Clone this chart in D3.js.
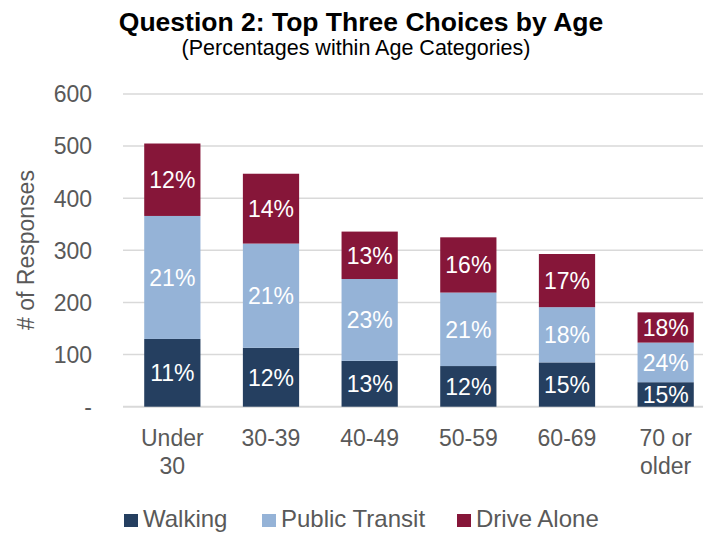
<!DOCTYPE html>
<html>
<head>
<meta charset="utf-8">
<script src="https://cdn.jsdelivr.net/npm/d3@7"></script>
<style>
  body { margin: 0; background: #fff; }
  svg { display: block; font-family: "Liberation Sans", Arial, sans-serif; }
</style>
</head>
<body>
<div id="chart"></div>
<script>
// Data
const ages = ['Under 30', '30-39', '40-49', '50-59', '60-69', '70 or older'];
const ageLines = [['Under', '30'], ['30-39'], ['40-49'], ['50-59'], ['60-69'], ['70 or', 'older']];
const seriesNames = ['Walking', 'Public Transit', 'Drive Alone'];
const walking = [130, 113, 88, 78, 85, 47];
const transit = [236, 200, 157, 141, 106, 76];
const driveAlone = [139, 134, 91, 106, 102, 58];
const walkingPct = ['11%', '12%', '13%', '12%', '15%', '15%'];
const transitPct = ['21%', '21%', '23%', '21%', '18%', '24%'];
const drivePct = ['12%', '14%', '13%', '16%', '17%', '18%'];
const yTicks = [0, 100, 200, 300, 400, 500, 600];

const width = 703;
const height = 534;
const colors = ['#253f60', '#95b3d7', '#861639'];
const textGray = '#595959';

const svg = d3.select('#chart')
    .append('svg')
    .attr('width', width)
    .attr('height', height);

// Build rows for the stack
const rows = ages.map((a, i) => ({
    age: a,
    'Walking': walking[i],
    'Public Transit': transit[i],
    'Drive Alone': driveAlone[i]
}));
const pcts = [walkingPct, transitPct, drivePct];

const x = d3.scaleBand()
    .domain(ages)
    .range([123, 715])
    .paddingInner(0.43)
    .paddingOuter(0.215);

const y = d3.scaleLinear()
    .domain([0, 600])
    .range([406.7, 94]);

// Gridlines
svg.append('g')
    .selectAll('line')
    .data(yTicks)
    .enter().append('line')
    .attr('x1', 123)
    .attr('x2', 715)
    .attr('y1', d => y(d))
    .attr('y2', d => y(d))
    .attr('stroke', '#d9d9d9')
    .attr('stroke-width', d => d === 0 ? 2 : 1.5);

// Y tick labels
svg.append('g')
    .selectAll('text')
    .data(yTicks)
    .enter().append('text')
    .attr('x', 92)
    .attr('y', d => y(d))
    .attr('dy', '0.36em')
    .attr('text-anchor', 'end')
    .attr('font-size', '23px')
    .attr('fill', textGray)
    .text(d => d === 0 ? '-' : d);

// Y axis title
svg.append('text')
    .attr('transform', 'translate(26,250) rotate(-90)')
    .attr('text-anchor', 'middle')
    .attr('dy', '0.36em')
    .attr('font-size', '23px')
    .attr('fill', textGray)
    .text('# of Responses');

// Stacked bars
const stack = d3.stack().keys(seriesNames);
const layers = stack(rows);

const layerG = svg.append('g')
    .selectAll('g')
    .data(layers)
    .enter().append('g')
    .attr('fill', (d, i) => colors[i]);

layerG.selectAll('rect')
    .data(d => d)
    .enter().append('rect')
    .attr('x', d => x(d.data.age))
    .attr('width', x.bandwidth())
    .attr('y', d => y(d[1]))
    .attr('height', d => y(d[0]) - y(d[1]));

// Data labels
layers.forEach((layer, li) => {
    svg.append('g')
        .selectAll('text')
        .data(layer)
        .enter().append('text')
        .attr('x', d => x(d.data.age) + x.bandwidth() / 2)
        .attr('y', d => (y(d[0]) + y(d[1])) / 2)
        .attr('dy', '0.36em')
        .attr('text-anchor', 'middle')
        .attr('font-size', '23px')
        .attr('fill', '#fff')
        .text((d, i) => pcts[li][i]);
});

// X labels
const xl = svg.append('g')
    .selectAll('text')
    .data(ages)
    .enter().append('text')
    .attr('x', d => x(d) + x.bandwidth() / 2)
    .attr('y', 446)
    .attr('text-anchor', 'middle')
    .attr('font-size', '23px')
    .attr('fill', textGray);

xl.selectAll('tspan')
    .data((d, i) => ageLines[i])
    .enter().append('tspan')
    .attr('x', function() { return this.parentNode.getAttribute('x'); })
    .attr('dy', (d, i) => i === 0 ? 0 : 28)
    .text(d => d);

// Title
svg.append('text')
    .attr('x', 361)
    .attr('y', 30.5)
    .attr('text-anchor', 'middle')
    .attr('font-size', '26.5px')
    .attr('font-weight', 'bold')
    .attr('fill', '#000')
    .text('Question 2: Top Three Choices by Age');

svg.append('text')
    .attr('x', 356)
    .attr('y', 55)
    .attr('text-anchor', 'middle')
    .attr('font-size', '21.5px')
    .attr('fill', '#000')
    .text('(Percentages within Age Categories)');

// Legend
const legendX = [124, 262, 457];
const legend = svg.append('g')
    .selectAll('g')
    .data(seriesNames)
    .enter().append('g')
    .attr('transform', (d, i) => `translate(${legendX[i]},527)`);

legend.append('rect')
    .attr('x', 0)
    .attr('y', -13)
    .attr('width', 14)
    .attr('height', 13)
    .attr('fill', (d, i) => colors[i]);

legend.append('text')
    .attr('x', 19)
    .attr('y', 0)
    .attr('font-size', '24px')
    .attr('fill', textGray)
    .text(d => d);
</script>
</body>
</html>
